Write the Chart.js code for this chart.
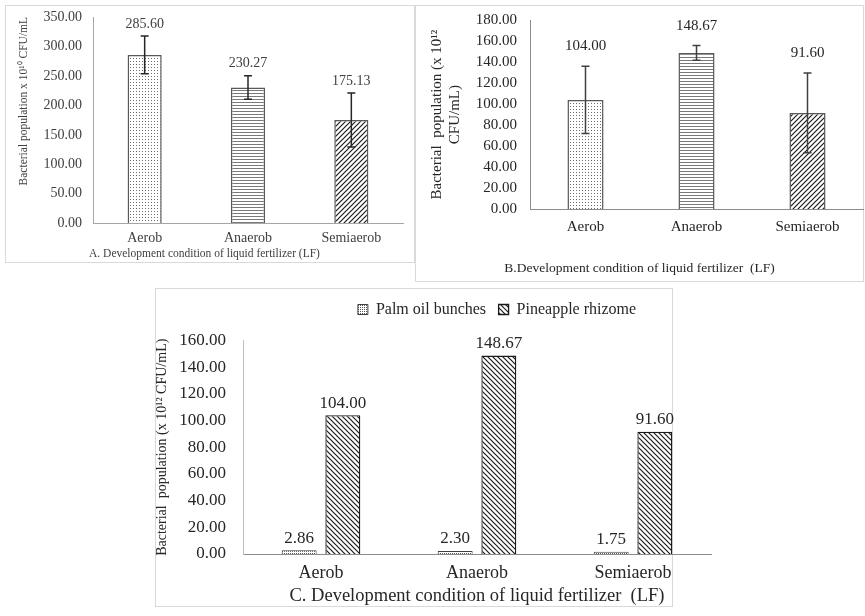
<!DOCTYPE html>
<html>
<head>
<meta charset="utf-8">
<script src="https://cdn.jsdelivr.net/npm/chart.js@4.4.1/dist/chart.umd.min.js"></script>
<style>
  body { margin: 0; background: #fff; width: 865px; height: 616px; position: relative; overflow: hidden; }
  .box { position: absolute; border: 1px solid #d9d9d9; box-sizing: border-box; }
  canvas { position: absolute; }
</style>
</head>
<body>
<div class="box" style="left:5px;top:5px;width:410px;height:258px"></div>
<div class="box" style="left:415px;top:5px;width:449px;height:277px"></div>
<div class="box" style="left:155px;top:288px;width:518px;height:319px"></div>
<canvas id="chartA" width="406" height="256" style="left:6px;top:6px"></canvas>
<canvas id="chartB" width="448" height="274" style="left:416px;top:6px"></canvas>
<canvas id="chartC" width="694" height="318" style="left:150px;top:289px"></canvas>
<script>
// data
var categories = ['Aerob', 'Anaerob', 'Semiaerob'];

var popA = [285.60, 230.27, 175.13];   // x 10^10 CFU/mL
var errA = [32, 20, 46];
var ticksA = [0, 50, 100, 150, 200, 250, 300, 350];

var popB = [104.00, 148.67, 91.60];    // x 10^12 CFU/mL
var errB = [32, 7, 38];
var ticksB = [0, 20, 40, 60, 80, 100, 120, 140, 160, 180];

var palmOil = [2.86, 2.30, 1.75];
var pineapple = [104.00, 148.67, 91.60];
var ticksC = [0, 20, 40, 60, 80, 100, 120, 140, 160];

Chart.defaults.font.family = '"Liberation Serif", "Times New Roman", serif';
Chart.defaults.color = '#262626';

// fill patterns like the Excel ones
function makePattern(size, draw) {
    var c = document.createElement('canvas');
    c.width = size; c.height = size;
    var g = c.getContext('2d');
    g.fillStyle = '#fff';
    g.fillRect(0, 0, size, size);
    draw(g, size);
    return g.createPattern(c, 'repeat');
}
var dots = makePattern(3, function (g) { g.fillStyle = '#6e6e6e'; g.fillRect(1, 1, 1, 1); });
var darkDots = makePattern(2, function (g) { g.fillStyle = '#555'; g.fillRect(0, 0, 1, 1); });
var hlines = makePattern(3, function (g) { g.fillStyle = '#7a7a7a'; g.fillRect(0, 0, 3, 1); });
var diagUp = makePattern(5, function (g, s) {
    g.strokeStyle = '#1a1a1a'; g.lineWidth = 1.2;
    g.beginPath();
    g.moveTo(0, s); g.lineTo(s, 0);
    g.moveTo(-1, 1); g.lineTo(1, -1);
    g.moveTo(s - 1, s + 1); g.lineTo(s + 1, s - 1);
    g.stroke();
});
var diagDown = makePattern(5, function (g, s) {
    g.strokeStyle = '#1a1a1a'; g.lineWidth = 1.2;
    g.beginPath();
    g.moveTo(0, 0); g.lineTo(s, s);
    g.moveTo(s - 1, -1); g.lineTo(s + 1, 1);
    g.moveTo(-1, s - 1); g.lineTo(1, s + 1);
    g.stroke();
});

var errorBars = {
    id: 'errorBars',
    afterDatasetsDraw: function (chart, args, opts) {
        var ctx = chart.ctx, y = chart.scales.y;
        chart.data.datasets.forEach(function (ds, di) {
            if (!ds.errors) return;
            chart.getDatasetMeta(di).data.forEach(function (bar, i) {
                var top = y.getPixelForValue(ds.data[i] + ds.errors[i]);
                var bot = y.getPixelForValue(ds.data[i] - ds.errors[i]);
                ctx.save();
                ctx.strokeStyle = opts.color;
                ctx.lineWidth = opts.width;
                ctx.beginPath();
                ctx.moveTo(bar.x, top); ctx.lineTo(bar.x, bot);
                ctx.moveTo(bar.x - opts.cap, top); ctx.lineTo(bar.x + opts.cap, top);
                ctx.moveTo(bar.x - opts.cap, bot); ctx.lineTo(bar.x + opts.cap, bot);
                ctx.stroke();
                ctx.restore();
            });
        });
    }
};

var valueLabels = {
    id: 'valueLabels',
    afterDatasetsDraw: function (chart, args, opts) {
        var ctx = chart.ctx, y = chart.scales.y;
        ctx.save();
        ctx.font = opts.size + 'px "Liberation Serif", serif';
        ctx.fillStyle = opts.color;
        ctx.textAlign = 'center';
        ctx.textBaseline = 'middle';
        chart.data.datasets.forEach(function (ds, di) {
            chart.getDatasetMeta(di).data.forEach(function (bar, i) {
                var v = ds.data[i] + (ds.errors ? ds.errors[i] : 0);
                ctx.fillText(ds.data[i].toFixed(2), bar.x, y.getPixelForValue(v) - opts.gap);
            });
        });
        ctx.restore();
    }
};

function fmt(v) { return v.toFixed(2); }

// A
var colA = '#404040';
new Chart(document.getElementById('chartA'), {
    type: 'bar',
    data: {
        labels: categories,
        datasets: [{
            data: popA,
            errors: errA,
            backgroundColor: [dots, hlines, diagUp],
            borderColor: '#595959',
            borderWidth: 1.5,
            categoryPercentage: 1,
            barPercentage: 0.33
        }]
    },
    options: {
        responsive: false,
        animation: false,
        layout: { padding: { top: 11, right: 9 } },
        plugins: {
            legend: { display: false },
            tooltip: { enabled: false },
            title: {
                display: true, position: 'bottom', text: 'A. Development condition of liquid fertilizer (LF)',
                color: colA, font: { size: 11.5, weight: 'normal' }, padding: { top: 0, bottom: 1 }
            },
            errorBars: { color: '#262626', width: 1.5, cap: 4 },
            valueLabels: { size: 14, color: colA, gap: 12 }
        },
        scales: {
            x: {
                grid: { display: false, drawTicks: false },
                border: { color: '#a6a6a6' },
                ticks: { color: colA, font: { size: 14 }, padding: 7 },
                afterFit: function (s) { s.height = 24; }
            },
            y: {
                min: ticksA[0],
                max: ticksA[ticksA.length - 1],
                grid: { display: false, drawTicks: true, tickLength: 11 },
                border: { color: '#a6a6a6' },
                ticks: { stepSize: ticksA[1] - ticksA[0], autoSkip: false, callback: fmt, color: colA, font: { size: 14 }, padding: 0 },
                title: { display: true, align: 'end', text: 'Bacterial population x 10¹⁰ CFU/mL', color: colA, font: { size: 11.5 }, padding: { top: 11, bottom: 0 } },
                afterFit: function (s) { s.width = 87; }
            }
        }
    },
    plugins: [errorBars, valueLabels]
});

// B
new Chart(document.getElementById('chartB'), {
    type: 'bar',
    data: {
        labels: categories,
        datasets: [{
            data: popB,
            errors: errB,
            backgroundColor: [dots, hlines, diagUp],
            borderColor: '#595959',
            borderWidth: 1.5,
            categoryPercentage: 1,
            barPercentage: 0.325
        }]
    },
    options: {
        responsive: false,
        animation: false,
        layout: { padding: { top: 14, right: 1 } },
        plugins: {
            legend: { display: false },
            tooltip: { enabled: false },
            title: {
                display: true, position: 'bottom', text: 'B.Development condition of liquid fertilizer  (LF)',
                font: { size: 13.5, weight: 'normal' }, padding: { top: 0, bottom: 3.6 }
            },
            errorBars: { color: '#404040', width: 1.5, cap: 4 },
            valueLabels: { size: 15, color: '#262626', gap: 20 }
        },
        scales: {
            x: {
                grid: { display: false, drawTicks: false },
                border: { color: '#8c8c8c' },
                ticks: { font: { size: 15 }, padding: 9 },
                afterFit: function (s) { s.height = 51; }
            },
            y: {
                min: ticksB[0],
                max: ticksB[ticksB.length - 1],
                grid: { display: false, drawTicks: true, tickLength: 13 },
                border: { color: '#8c8c8c' },
                ticks: { stepSize: ticksB[1] - ticksB[0], autoSkip: false, callback: fmt, font: { size: 15 }, padding: 0 },
                title: { display: true, text: ['Bacterial  population (x 10¹²', 'CFU/mL)'], font: { size: 15, lineHeight: 1.2 }, padding: { top: 12, bottom: 0 } },
                afterFit: function (s) { s.width = 114; }
            }
        }
    },
    plugins: [errorBars, valueLabels]
});

// C
new Chart(document.getElementById('chartC'), {
    type: 'bar',
    data: {
        labels: categories,
        datasets: [{
            label: 'Palm oil bunches',
            data: palmOil,
            backgroundColor: darkDots,
            borderColor: '#404040',
            borderWidth: 1,
            categoryPercentage: 0.56,
            barPercentage: 0.8
        }, {
            label: 'Pineapple rhizome',
            data: pineapple,
            backgroundColor: diagDown,
            borderColor: '#1a1a1a',
            borderWidth: 1.3,
            categoryPercentage: 0.56,
            barPercentage: 0.8
        }]
    },
    options: {
        responsive: false,
        animation: false,
        layout: { padding: 0 },
        plugins: {
            legend: {
                labels: { boxWidth: 10, boxHeight: 10, font: { size: 16 }, color: '#262626', padding: 12.5 }
            },
            tooltip: { enabled: false },
            valueLabels: { size: 17, color: '#262626', gap: 12 }
        },
        scales: {
            x: {
                grid: { display: false, drawTicks: false },
                border: { color: '#8c8c8c' },
                ticks: { font: { size: 18 }, padding: 8 },
                title: { display: true, text: 'C. Development condition of liquid fertilizer  (LF)', font: { size: 18.5 }, padding: { top: 0, bottom: 0 } },
                afterFit: function (s) { s.height = 53; }
            },
            y: {
                min: ticksC[0],
                max: ticksC[ticksC.length - 1],
                grid: { display: false, drawTicks: false },
                border: { color: '#bfbfbf' },
                ticks: { stepSize: ticksC[1] - ticksC[0], autoSkip: false, callback: fmt, font: { size: 17 }, padding: 17 },
                title: { display: true, text: 'Bacterial  population (x 10¹² CFU/mL)', font: { size: 14 }, padding: { top: 4, bottom: 0 } },
                afterFit: function (s) { s.width = 93; }
            },
            // empty bands so the legend and plot sit where they do in the figure
            padTop: {
                type: 'linear',
                axis: 'x',
                position: 'top',
                grid: { display: false, drawTicks: false },
                border: { display: false },
                ticks: { display: false },
                afterFit: function (s) { s.height = 13; }
            },
            padRight: {
                type: 'linear',
                position: 'right',
                grid: { display: false, drawTicks: false },
                border: { display: false },
                ticks: { display: false },
                afterFit: function (s) { s.width = 133; }
            }
        }
    },
    plugins: [valueLabels]
});
</script>
</body>
</html>
